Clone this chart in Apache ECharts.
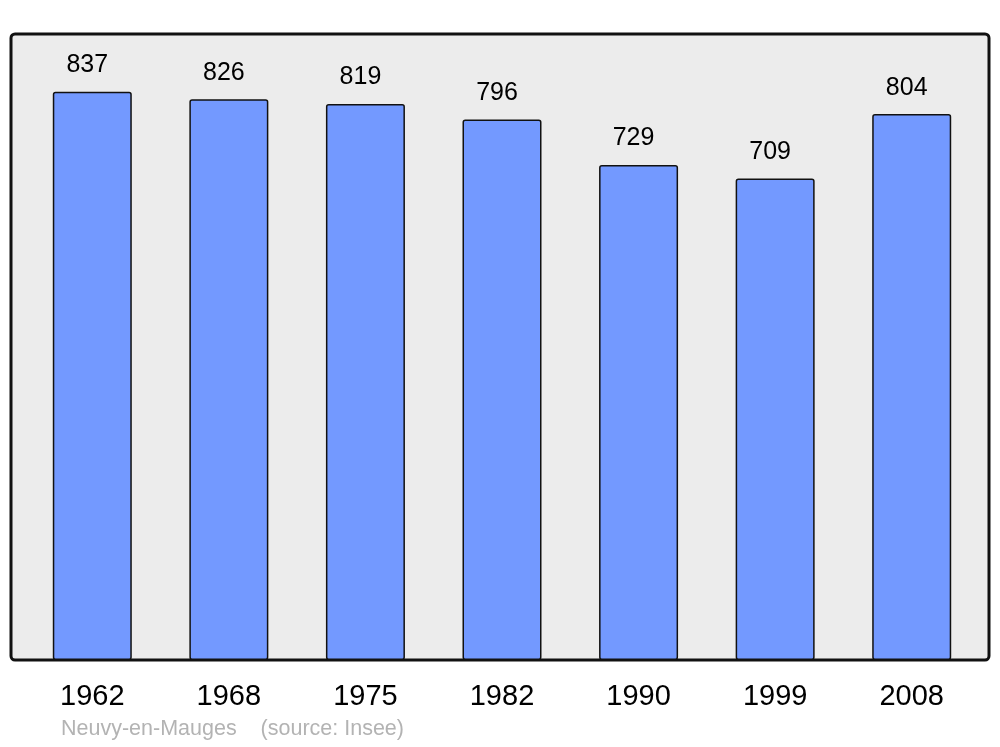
<!DOCTYPE html>
<html>
<head>
<meta charset="utf-8">
<script src="https://cdn.jsdelivr.net/npm/echarts@6/dist/echarts.min.js"></script>
<style>
  html, body { margin: 0; padding: 0; background: #fff; }
  #chart { width: 1000px; height: 747px; }
</style>
</head>
<body>
<div id="chart"></div>
<script>
  // population by census year
  var years = ['1962', '1968', '1975', '1982', '1990', '1999', '2008'];
  var population = [837, 826, 819, 796, 729, 709, 804];
  var placeName = 'Neuvy-en-Mauges';
  var sourceNote = '(source: Insee)';

  var chart = echarts.init(document.getElementById('chart'));
  var option = {
    animation: false,
    textStyle: { fontFamily: 'Liberation Sans, Arial, sans-serif' },
    graphic: [
      {
        type: 'rect', z: 0,
        shape: { x: 11, y: 34, width: 978, height: 626, r: 4 },
        style: { fill: '#ececec', stroke: '#111', lineWidth: 3 }
      },
      {
        type: 'text', left: 61, top: 718,
        style: {
          text: placeName + '    ' + sourceNote,
          fill: '#b3b3b3', fontSize: 21.5,
          fontFamily: 'Liberation Sans, Arial, sans-serif'
        }
      }
    ],
    grid: { left: 24, right: 20, top: 34, bottom: 87 },
    xAxis: {
      type: 'category',
      data: years,
      axisLine: { show: false },
      axisTick: { show: false },
      axisLabel: { color: '#000', fontSize: 29, margin: 22 }
    },
    yAxis: {
      type: 'value', min: 0, max: 922,
      show: false,
      splitLine: { show: false }
    },
    series: [{
      type: 'bar',
      data: population,
      barWidth: 79,
      z: 2,
      itemStyle: {
        color: '#7399ff',
        borderColor: '#111',
        borderWidth: 1.5,
        borderRadius: 2
      },
      label: {
        show: true,
        position: 'top',
        distance: 14,
        offset: [-5, 0],
        color: '#000',
        fontSize: 25
      }
    }]
  };
  chart.setOption(option);
</script>
</body>
</html>
